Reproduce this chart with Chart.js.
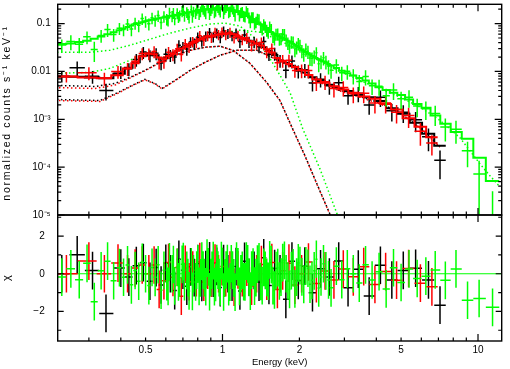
<!DOCTYPE html>
<html>
<head>
<meta charset="utf-8">
<script src="https://cdn.jsdelivr.net/npm/chart.js@4"></script>
<style>
  html, body { margin: 0; padding: 0; background: #fff; }
  canvas { display: block; }
</style>
</head>
<body>
<canvas id="spec" width="510" height="369"></canvas>
<script>
// axis ranges
const energyRange = [0.2265, 12.38];
const fluxRange = [1e-5, 0.253];
const chiRange = [-3.57, 3.12];

// tick labels
const xLabelTicks = [0.5, 1, 2, 5, 10];
const xMinorTicks = [0.3, 0.4, 0.5, 0.6, 0.7, 0.8, 0.9, 2, 3, 4, 5, 6, 7, 8, 9];
const xMajorTicks = [1, 10];
const yLabelTicks = [1e-5, 1e-4, 1e-3, 0.01, 0.1];
const yTickText = ['10⁻⁵', '10⁻⁴', '10⁻³', '0.01', '0.1'];
const chiLabelTicks = [-2, 0, 2];
const chiTickText = ['−2', '0', '2'];
const chiMinorTicks = [-3, -1, 1, 3];

// black data set (energy keV, counts/s/keV, relative error, folded model)
const blackE = [0.235, 0.27, 0.31, 0.35, 0.40, 0.43, 0.46, 0.49, 0.52, 0.55, 0.575, 0.60, 0.625, 0.65,
  0.675, 0.70, 0.725, 0.75, 0.775, 0.80, 0.83, 0.86, 0.89, 0.92, 0.95, 0.98, 1.01, 1.05, 1.09, 1.13,
  1.17, 1.22, 1.27, 1.33, 1.39, 1.45, 1.52, 1.60, 1.68, 1.77, 1.87, 1.98, 2.10, 2.25, 2.42, 2.62,
  2.85, 3.10, 3.40, 3.75, 4.15, 4.60, 5.10, 5.70, 6.40, 7.10];
const blackFlux = [0.0078, 0.0119, 0.0079, 0.0040, 0.0099, 0.0114, 0.0178, 0.0254, 0.0216, 0.0239,
  0.0151, 0.0228, 0.0220, 0.0200, 0.0354, 0.0328, 0.0293, 0.0414, 0.0390, 0.052, 0.044, 0.055, 0.065,
  0.053, 0.064, 0.051, 0.070, 0.0625, 0.056, 0.063, 0.042, 0.058, 0.042, 0.042, 0.033, 0.042, 0.023,
  0.024, 0.017, 0.0106, 0.0165, 0.0102, 0.0109, 0.0057, 0.0069, 0.0050, 0.0058, 0.0031, 0.0035,
  0.0020, 0.0029, 0.0015, 0.0014, 0.00098, 0.00043, 0.00014];
const blackErr = [0.25, 0.35, 0.3, 0.38, 0.3, 0.3, 0.3, 0.28, 0.28, 0.28, 0.3, 0.3, 0.28, 0.28, 0.26,
  0.26, 0.27, 0.25, 0.25, 0.25, 0.25, 0.24, 0.24, 0.24, 0.24, 0.24, 0.24, 0.24, 0.24, 0.25, 0.26, 0.26,
  0.26, 0.27, 0.27, 0.28, 0.28, 0.3, 0.3, 0.32, 0.3, 0.3, 0.32, 0.33, 0.33, 0.35, 0.33, 0.35, 0.35,
  0.38, 0.38, 0.4, 0.4, 0.45, 0.5, 0.6];
const blackModel = [0.0078, 0.0077, 0.0075, 0.0072, 0.0090, 0.0120, 0.0155, 0.0212, 0.0240, 0.0217,
  0.0178, 0.0190, 0.0220, 0.0250, 0.0283, 0.0312, 0.0345, 0.0376, 0.041, 0.045, 0.049, 0.052, 0.0543,
  0.056, 0.058, 0.060, 0.061, 0.0625, 0.062, 0.057, 0.052, 0.048, 0.044, 0.040, 0.037, 0.032, 0.027,
  0.022, 0.017, 0.0152, 0.0132, 0.0113, 0.0095, 0.0076, 0.0063, 0.0053, 0.0045, 0.0039, 0.0032,
  0.0029, 0.0024, 0.0017, 0.0013, 0.00085, 0.00050, 0.00028];

// red data set
const redE = [0.245, 0.30, 0.345, 0.39, 0.425, 0.455, 0.485, 0.515, 0.54, 0.565, 0.59, 0.615, 0.64,
  0.665, 0.69, 0.715, 0.74, 0.765, 0.79, 0.815, 0.845, 0.875, 0.905, 0.935, 0.965, 0.995, 1.03, 1.07,
  1.11, 1.15, 1.195, 1.245, 1.30, 1.36, 1.42, 1.49, 1.56, 1.64, 1.72, 1.82, 1.92, 2.04, 2.17, 2.33,
  2.52, 2.73, 2.97, 3.25, 3.57, 3.95, 4.35, 4.80, 5.35, 5.95, 6.60];
const redFlux = [0.0078, 0.0094, 0.0072, 0.0100, 0.0115, 0.0163, 0.0238, 0.0237, 0.0262, 0.0156,
  0.0162, 0.0252, 0.0226, 0.0297, 0.0225, 0.038, 0.0327, 0.042, 0.0413, 0.056, 0.0455, 0.056, 0.052,
  0.066, 0.059, 0.0666, 0.059, 0.066, 0.051, 0.057, 0.0475, 0.0506, 0.0357, 0.0385, 0.0403, 0.0261,
  0.030, 0.0152, 0.0170, 0.0172, 0.0105, 0.0106, 0.0105, 0.0058, 0.0061, 0.0044, 0.0046, 0.0034,
  0.0035, 0.0022, 0.0022, 0.0014, 0.0012, 0.00056, 0.00032];
const redErr = [0.25, 0.3, 0.3, 0.3, 0.3, 0.3, 0.28, 0.28, 0.28, 0.3, 0.3, 0.28, 0.28, 0.27, 0.28,
  0.26, 0.26, 0.25, 0.25, 0.25, 0.25, 0.24, 0.24, 0.24, 0.24, 0.24, 0.24, 0.24, 0.25, 0.25, 0.26, 0.26,
  0.27, 0.27, 0.27, 0.28, 0.28, 0.3, 0.3, 0.3, 0.3, 0.32, 0.32, 0.33, 0.33, 0.35, 0.35, 0.36, 0.38,
  0.4, 0.4, 0.42, 0.45, 0.5, 0.45];
const redModel = [0.0078, 0.0075, 0.0072, 0.0083, 0.0115, 0.0148, 0.0207, 0.0237, 0.0228, 0.0195,
  0.0180, 0.0210, 0.0238, 0.0270, 0.030, 0.033, 0.0363, 0.040, 0.0435, 0.047, 0.0505, 0.0535, 0.055,
  0.057, 0.059, 0.0605, 0.062, 0.063, 0.060, 0.054, 0.050, 0.046, 0.042, 0.0385, 0.035, 0.029, 0.025,
  0.019, 0.0162, 0.0143, 0.0124, 0.0106, 0.0084, 0.0068, 0.0058, 0.0049, 0.0042, 0.0036, 0.0030,
  0.0027, 0.0021, 0.0016, 0.00105, 0.00070, 0.00042];

// green data set
const greenE = [0.235, 0.255, 0.275, 0.295, 0.315, 0.335, 0.355, 0.375, 0.395, 0.41,
  0.425, 0.44, 0.455, 0.47, 0.485, 0.50, 0.515, 0.53, 0.545, 0.56,
  0.575, 0.59, 0.605, 0.62, 0.635, 0.65, 0.665, 0.68, 0.695, 0.71,
  0.725, 0.74, 0.755, 0.77, 0.785, 0.80, 0.82, 0.84, 0.86, 0.88,
  0.90, 0.92, 0.94, 0.96, 0.98, 1.00, 1.02, 1.045, 1.07, 1.095,
  1.12, 1.15, 1.18, 1.21, 1.24, 1.27, 1.30, 1.335, 1.37, 1.41,
  1.45, 1.49, 1.53, 1.575, 1.62, 1.67, 1.72, 1.775, 1.83, 1.89,
  1.95, 2.01, 2.08, 2.16, 2.24, 2.33, 2.43, 2.54, 2.66, 2.79,
  2.93, 3.08, 3.25, 3.43, 3.63, 3.85, 4.10, 4.37, 4.67, 5.00,
  5.37, 5.78, 6.25, 6.80, 7.45, 8.20, 9.10, 10.1, 11.4];
const greenFlux = [0.0356, 0.0424, 0.0369, 0.0528, 0.0288, 0.0567, 0.075, 0.0594, 0.0803, 0.0751,
  0.0978, 0.0774, 0.103, 0.0918, 0.128, 0.112, 0.0995, 0.132, 0.118, 0.147,
  0.106, 0.143, 0.125, 0.170, 0.145, 0.126, 0.167, 0.149, 0.184, 0.147,
  0.175, 0.138, 0.194, 0.180, 0.166, 0.215, 0.181, 0.204, 0.167, 0.220,
  0.192, 0.245, 0.185, 0.218, 0.179, 0.232, 0.201, 0.239, 0.182, 0.206,
  0.150, 0.198, 0.172, 0.147, 0.184, 0.135, 0.137, 0.102, 0.127, 0.0873,
  0.0968, 0.0741, 0.0875, 0.0544, 0.0609, 0.0486, 0.060, 0.046, 0.0336, 0.0418,
  0.0323, 0.0352, 0.0230, 0.0264, 0.0189, 0.0247, 0.0163, 0.0161, 0.0106, 0.0136,
  0.0094, 0.0101, 0.0082, 0.0062, 0.0078, 0.0050, 0.0049, 0.0031, 0.0041, 0.0027,
  0.0029, 0.0019, 0.00166, 0.00132, 0.00069, 0.00062, 0.00022, 0.000072, 0.0000052];
const greenErr = [0.3, 0.35, 0.35, 0.3, 0.45, 0.3, 0.3, 0.3, 0.28, 0.28,
  0.28, 0.3, 0.28, 0.28, 0.27, 0.27, 0.28, 0.27, 0.27, 0.27,
  0.28, 0.27, 0.27, 0.26, 0.26, 0.27, 0.26, 0.26, 0.26, 0.26,
  0.25, 0.27, 0.25, 0.25, 0.25, 0.25, 0.25, 0.25, 0.26, 0.25,
  0.25, 0.24, 0.25, 0.24, 0.25, 0.24, 0.24, 0.24, 0.25, 0.25,
  0.26, 0.25, 0.25, 0.26, 0.25, 0.26, 0.26, 0.27, 0.26, 0.27,
  0.27, 0.28, 0.27, 0.28, 0.28, 0.29, 0.28, 0.29, 0.3, 0.29,
  0.3, 0.3, 0.31, 0.31, 0.32, 0.3, 0.32, 0.32, 0.34, 0.33,
  0.34, 0.34, 0.35, 0.36, 0.35, 0.36, 0.37, 0.4, 0.38, 0.4,
  0.4, 0.42, 0.42, 0.45, 0.5, 0.5, 0.55, 0.9, 5];
const greenModel = [0.0375, 0.0385, 0.041, 0.044, 0.048, 0.054, 0.060, 0.066, 0.073, 0.079,
  0.085, 0.091, 0.098, 0.102, 0.107, 0.112, 0.117, 0.120, 0.124, 0.128,
  0.132, 0.136, 0.139, 0.142, 0.145, 0.148, 0.152, 0.157, 0.160, 0.163,
  0.167, 0.172, 0.176, 0.180, 0.184, 0.187, 0.191, 0.194, 0.197, 0.200,
  0.202, 0.204, 0.206, 0.208, 0.210, 0.211, 0.212, 0.208, 0.202, 0.196,
  0.188, 0.180, 0.172, 0.163, 0.153, 0.142, 0.130, 0.120, 0.110, 0.097,
  0.088, 0.078, 0.070, 0.064, 0.058, 0.054, 0.050, 0.046, 0.042, 0.038,
  0.034, 0.0306, 0.027, 0.024, 0.021, 0.019, 0.0172, 0.0153, 0.0133, 0.0118,
  0.0104, 0.0092, 0.0082, 0.0073, 0.0065, 0.0056, 0.0047, 0.0041, 0.0036, 0.0032,
  0.0026, 0.0021, 0.00175, 0.00120, 0.00081, 0.00054, 0.00039, 0.000157, 0.0000516];

// extra narrow green channels in the 0.6-2.6 keV peak
const greenE2 = [0.6125, 0.6425, 0.6725, 0.7025, 0.7325, 0.7625, 0.7925, 0.81, 0.83, 0.85,
  0.87, 0.89, 0.91, 0.93, 0.95, 0.97, 0.99, 1.01, 1.0325, 1.0575,
  1.0825, 1.1075, 1.135, 1.165, 1.195, 1.225, 1.255, 1.285, 1.3175, 1.3525,
  1.39, 1.43, 1.47, 1.51, 1.5525, 1.5975, 1.645, 1.695, 1.7475, 1.8025,
  1.86, 1.92, 1.98, 2.045, 2.12, 2.20, 2.285, 2.38, 2.485, 2.60];
const greenFlux2 = [0.119, 0.168, 0.139, 0.194, 0.161, 0.142, 0.195, 0.161, 0.231, 0.186,
  0.248, 0.161, 0.213, 0.174, 0.238, 0.199, 0.253, 0.169, 0.221, 0.174,
  0.229, 0.182, 0.221, 0.150, 0.176, 0.142, 0.170, 0.109, 0.1375, 0.109,
  0.124, 0.0786, 0.0872, 0.0666, 0.0771, 0.0488, 0.0616, 0.0494, 0.060, 0.0396,
  0.042, 0.0288, 0.0388, 0.0274, 0.0293, 0.0191, 0.021, 0.0144, 0.0194, 0.0129];
const greenErr2 = [0.27, 0.26, 0.26, 0.26, 0.26, 0.27, 0.25, 0.26, 0.25, 0.25,
  0.24, 0.26, 0.25, 0.26, 0.24, 0.25, 0.24, 0.26, 0.25, 0.26,
  0.25, 0.25, 0.25, 0.26, 0.26, 0.26, 0.25, 0.27, 0.26, 0.27,
  0.26, 0.28, 0.27, 0.28, 0.27, 0.29, 0.28, 0.29, 0.28, 0.29,
  0.29, 0.31, 0.29, 0.31, 0.31, 0.32, 0.31, 0.33, 0.31, 0.33];
const greenModel2 = [0.1405, 0.1465, 0.1545, 0.1615, 0.1695, 0.178, 0.1855, 0.189, 0.1925, 0.1955,
  0.1985, 0.201, 0.203, 0.205, 0.207, 0.209, 0.2105, 0.2115, 0.210, 0.205,
  0.199, 0.192, 0.184, 0.176, 0.1675, 0.158, 0.1475, 0.136, 0.125, 0.115,
  0.1035, 0.0925, 0.083, 0.074, 0.067, 0.061, 0.056, 0.052, 0.048, 0.044,
  0.040, 0.036, 0.0323, 0.0288, 0.0255, 0.0225, 0.020, 0.018, 0.0162, 0.0143];

// model components (dotted)
const darkCompAE = [0.225, 0.317, 0.380, 0.4345, 0.497, 0.569, 0.652, 0.746, 0.854, 0.978, 1.099,
  1.281, 1.49, 1.679, 1.88, 2.103, 2.36, 2.634, 2.883];
const blackCompA = [0.0051, 0.00486, 0.00562, 0.00752, 0.0105, 0.0155, 0.0218, 0.0277, 0.0321, 0.0337,
  0.0277, 0.0148, 0.0059, 0.00247, 0.00064, 0.000173, 0.0000405, 0.0000104, 0.0000028];
const redCompA = [0.0046, 0.0044, 0.0052, 0.0073, 0.0103, 0.0153, 0.0216, 0.0275, 0.0320, 0.0336,
  0.0276, 0.0147, 0.0058, 0.00245, 0.00063, 0.000170, 0.000040, 0.0000102, 0.0000028];
const darkCompBE = [0.225, 0.3315, 0.390, 0.442, 0.497, 0.544, 0.580, 0.652, 0.746, 0.854, 0.978,
  1.14, 1.364, 1.605, 2.011, 2.407, 2.883, 3.453, 4.135, 4.951, 5.93, 7.10];
const blackCompB = [0.00259, 0.00247, 0.00364, 0.0051, 0.00682, 0.00562, 0.00442, 0.0065, 0.0105,
  0.0155, 0.0218, 0.0277, 0.0277, 0.0185, 0.0105, 0.0060, 0.0040, 0.0030, 0.0022, 0.00135, 0.00068, 0.00027];
const redCompB = [0.00247, 0.00236, 0.0035, 0.0050, 0.0067, 0.0055, 0.0043, 0.0064, 0.0104,
  0.0154, 0.0217, 0.0276, 0.0276, 0.0184, 0.0104, 0.0059, 0.0039, 0.0029, 0.0021, 0.00132, 0.00066, 0.00026];
const greenCompAE = [0.225, 0.303, 0.3627, 0.4345, 0.5202, 0.623, 0.746, 0.894, 1.023, 1.171, 1.340,
  1.508, 1.679, 1.837, 2.06, 2.407, 2.81, 3.02];
const greenCompA = [0.0252, 0.0252, 0.0277, 0.0353, 0.0472, 0.0632, 0.0804, 0.0976, 0.1024, 0.0886,
  0.0496, 0.0218, 0.00828, 0.00364, 0.00064, 0.000092, 0.0000104, 0.0000036];
const greenCompBE = [0.225, 0.303, 0.3627, 0.4345, 0.4973, 0.5441, 0.584, 0.6516, 0.746, 0.854, 0.978,
  1.171, 1.402, 1.679, 2.011, 2.407, 2.883, 3.453, 4.135, 4.951, 5.93, 7.10, 8.50, 9.305, 10.18, 11.14, 12.19];
const greenCompB = [0.00912, 0.00957, 0.0116, 0.0171, 0.0240, 0.0218, 0.0188, 0.0252, 0.0371, 0.0496,
  0.0632, 0.0730, 0.0663, 0.044, 0.027, 0.0165, 0.0100, 0.0065, 0.0043, 0.0029, 0.0018, 0.00095,
  0.00041, 0.00022, 0.000117, 0.000066, 0.0000386];

const BLACK = '#000000', RED = '#ff0000', GREEN = '#00ff00';
const FONT = '"Liberation Sans", Arial, sans-serif';

// put both green channel lists into one energy-ordered spectrum
function mergeChannels(a, b) {
  const rows = a.e.map((e, i) => [e, a.flux[i], a.err[i], a.model[i]])
    .concat(b.e.map((e, i) => [e, b.flux[i], b.err[i], b.model[i]]))
    .sort((p, q) => p[0] - q[0]);
  return {
    e: rows.map(row => row[0]),
    flux: rows.map(row => row[1]),
    err: rows.map(row => row[2]),
    model: rows.map(row => row[3])
  };
}

const greenAll = mergeChannels(
  { e: greenE, flux: greenFlux, err: greenErr, model: greenModel },
  { e: greenE2, flux: greenFlux2, err: greenErr2, model: greenModel2 }
);

const spectra = [
  { color: BLACK, e: blackE, flux: blackFlux, err: blackErr, model: blackModel },
  { color: RED, e: redE, flux: redFlux, err: redErr, model: redModel },
  { color: GREEN, ...greenAll }
];

Chart.defaults.font.family = FONT;
Chart.defaults.color = '#000';

function dotted(e, v, color, offset) {
  return {
    data: e.map((x, i) => ({ x, y: v[i] })),
    borderColor: color,
    borderWidth: 1.5,
    borderDash: [1.5, 2.5],
    borderDashOffset: offset,
    pointRadius: 0,
    fill: false,
    tension: 0,
    xAxisID: 'x',
    yAxisID: 'y'
  };
}

// bin edges halfway (in log) between neighbouring channels
function binEdges(e) {
  const lo = [], hi = [];
  for (let i = 0; i < e.length; i++) {
    const a = i > 0 ? Math.sqrt(e[i - 1] * e[i]) : null;
    const b = i < e.length - 1 ? Math.sqrt(e[i] * e[i + 1]) : null;
    lo.push(a !== null ? a : e[i] * e[i] / b);
    hi.push(b !== null ? b : e[i] * e[i] / a);
  }
  return { lo, hi };
}

function clipTo(ctx, a) {
  ctx.beginPath();
  ctx.rect(a.l, a.t, a.r - a.l, a.b - a.t);
  ctx.clip();
}

const xspecPlugin = {
  id: 'xspec',
  afterDatasetsDraw(chart) {
    const { ctx } = chart;
    const x = chart.scales.x, y = chart.scales.y, r = chart.scales.r;
    const top = { l: x.left, r: x.right, t: y.top, b: y.bottom };
    const bot = { l: x.left, r: x.right, t: r.top, b: r.bottom };
    const px = v => x.getPixelForValue(v);

    // spectra + folded model
    ctx.save();
    clipTo(ctx, top);
    ctx.lineCap = 'butt';
    spectra.forEach(s => {
      const { lo, hi } = binEdges(s.e);
      ctx.strokeStyle = s.color;
      ctx.lineWidth = 1.5;
      ctx.beginPath();
      s.e.forEach((e, i) => {
        const f = s.flux[i], d = f * s.err[i];
        const yc = y.getPixelForValue(f);
        const y1 = y.getPixelForValue(f + d);
        const y2 = f - d > 0 ? y.getPixelForValue(f - d) : top.b + 5;
        ctx.moveTo(px(lo[i]), yc); ctx.lineTo(px(hi[i]), yc);
        ctx.moveTo(px(e), y1); ctx.lineTo(px(e), y2);
      });
      ctx.stroke();
      ctx.lineWidth = 2;
      ctx.beginPath();
      s.e.forEach((e, i) => {
        const ym = y.getPixelForValue(s.model[i]);
        if (i === 0) ctx.moveTo(px(lo[i]), ym); else ctx.lineTo(px(lo[i]), ym);
        ctx.lineTo(px(hi[i]), ym);
      });
      ctx.stroke();
    });
    ctx.restore();

    // residuals
    ctx.save();
    clipTo(ctx, bot);
    ctx.strokeStyle = GREEN;
    ctx.lineWidth = 1;
    ctx.beginPath();
    ctx.moveTo(bot.l, r.getPixelForValue(0));
    ctx.lineTo(bot.r, r.getPixelForValue(0));
    ctx.stroke();
    spectra.forEach(s => {
      const { lo, hi } = binEdges(s.e);
      ctx.strokeStyle = s.color;
      ctx.lineWidth = 1.5;
      ctx.beginPath();
      s.e.forEach((e, i) => {
        const d = s.flux[i] * s.err[i];
        const chi = (s.flux[i] - s.model[i]) / d;
        const yc = r.getPixelForValue(chi);
        ctx.moveTo(px(lo[i]), yc); ctx.lineTo(px(hi[i]), yc);
        ctx.moveTo(px(e), r.getPixelForValue(chi + 1));
        ctx.lineTo(px(e), r.getPixelForValue(chi - 1));
      });
      ctx.stroke();
    });
    ctx.restore();

    // frames and inward ticks
    ctx.save();
    ctx.strokeStyle = BLACK;
    ctx.lineWidth = 1.4;
    [top, bot].forEach(a => ctx.strokeRect(a.l, a.t, a.r - a.l, a.b - a.t));
    ctx.lineWidth = 1.2;
    ctx.beginPath();
    const xTick = (v, len) => {
      const p = px(v);
      [top, bot].forEach(a => {
        ctx.moveTo(p, a.t); ctx.lineTo(p, a.t + len);
        ctx.moveTo(p, a.b); ctx.lineTo(p, a.b - len);
      });
    };
    xMinorTicks.forEach(v => xTick(v, 3.5));
    xMajorTicks.forEach(v => xTick(v, 7));
    const yTick = (scale, v, len) => {
      const p = scale.getPixelForValue(v);
      ctx.moveTo(x.left, p); ctx.lineTo(x.left + len, p);
      ctx.moveTo(x.right, p); ctx.lineTo(x.right - len, p);
    };
    yLabelTicks.forEach(v => yTick(y, v, 7));
    yLabelTicks.forEach(dec => {
      for (let k = 2; k <= 9; k++) {
        if (dec * k < fluxRange[1]) yTick(y, dec * k, 3.5);
      }
    });
    chiLabelTicks.forEach(v => yTick(r, v, 6));
    chiMinorTicks.forEach(v => yTick(r, v, 3.5));
    ctx.stroke();

    // tick labels
    ctx.fillStyle = BLACK;
    ctx.font = '10px ' + FONT;
    ctx.textBaseline = 'middle';
    ctx.textAlign = 'right';
    yLabelTicks.forEach((v, i) => ctx.fillText(yTickText[i], x.left - 7, y.getPixelForValue(v)));
    chiLabelTicks.forEach((v, i) => ctx.fillText(chiTickText[i], x.left - 13, r.getPixelForValue(v)));
    ctx.textAlign = 'center';
    xLabelTicks.forEach(v => ctx.fillText(String(v), px(v), r.bottom + 9.5));

    // axis titles
    ctx.font = '10.5px ' + FONT;
    ctx.letterSpacing = '1.7px';
    ctx.textBaseline = 'alphabetic';
    ctx.save();
    ctx.translate(10, 113);
    ctx.rotate(-Math.PI / 2);
    ctx.fillText('normalized counts s⁻¹ keV⁻¹', 0, 0);
    ctx.restore();
    ctx.letterSpacing = '0px';
    ctx.save();
    ctx.translate(10, (r.top + r.bottom) / 2);
    ctx.rotate(-Math.PI / 2);
    ctx.font = '11px ' + FONT;
    ctx.fillText('χ', 0, 0);
    ctx.restore();
    ctx.font = '9.5px ' + FONT;
    ctx.textBaseline = 'middle';
    ctx.fillText('Energy (keV)', (x.left + x.right) / 2, 362);
    ctx.restore();
  }
};

const datasets = [
  dotted(greenCompAE, greenCompA, GREEN, 0),
  dotted(greenCompBE, greenCompB, GREEN, 0),
  dotted(darkCompAE, blackCompA, BLACK, 0),
  dotted(darkCompAE, redCompA, RED, 2),
  dotted(darkCompBE, blackCompB, BLACK, 0),
  dotted(darkCompBE, redCompB, RED, 2)
];

const gridOff = { display: false, drawTicks: false };

new Chart(document.getElementById('spec'), {
  type: 'line',
  data: { datasets },
  options: {
    responsive: false,
    animation: false,
    events: [],
    layout: { padding: { top: 4.3, right: 8.3, bottom: 0, left: 0 } },
    plugins: { legend: { display: false }, tooltip: { enabled: false } },
    scales: {
      x: {
        type: 'logarithmic',
        position: 'bottom',
        min: energyRange[0],
        max: energyRange[1],
        grid: gridOff,
        border: { display: false },
        ticks: { display: false },
        afterFit: s => { s.height = 28; }
      },
      y: {
        type: 'logarithmic',
        position: 'left',
        stack: 'panels',
        stackWeight: 210.7,
        weight: 1,
        min: fluxRange[0],
        max: fluxRange[1],
        grid: gridOff,
        border: { display: false },
        ticks: { display: false },
        afterFit: s => { s.width = 57.7; }
      },
      r: {
        type: 'linear',
        position: 'left',
        stack: 'panels',
        stackWeight: 126,
        weight: 0,
        min: chiRange[0],
        max: chiRange[1],
        grid: gridOff,
        border: { display: false },
        ticks: { display: false },
        afterFit: s => { s.width = 57.7; }
      }
    }
  },
  plugins: [xspecPlugin]
});
</script>
</body>
</html>
